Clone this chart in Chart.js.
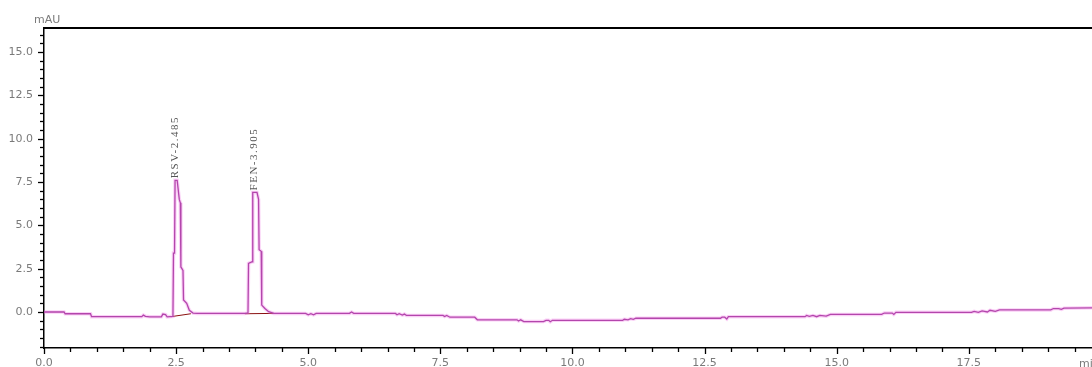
<!DOCTYPE html>
<html>
<head>
<meta charset="utf-8">
<script src="https://cdn.jsdelivr.net/npm/chart.js@4/dist/chart.umd.min.js"></script>
<style>
  html, body { margin: 0; padding: 0; background: #ffffff; overflow: hidden; }
  #wrap { width: 1092px; height: 367px; }
</style>
</head>
<body>
<div id="wrap"><canvas id="c" width="1092" height="367"></canvas></div>
<script>
// ---- data ----
const times = [
  0.00, 0.38, 0.40, 0.88, 0.90, 1.85, 1.88, 1.92, 2.00, 2.22, 2.25, 2.30, 2.33, 2.44,
  2.45, 2.47, 2.48, 2.52, 2.56, 2.58, 2.59, 2.63, 2.64, 2.70, 2.75, 2.82, 2.90,
  3.80, 3.86, 3.87, 3.94, 3.95, 4.03, 4.06, 4.07, 4.11, 4.12, 4.18, 4.25, 4.35,
  4.95, 5.00, 5.05, 5.10, 5.15, 5.78, 5.82, 5.86, 6.65, 6.68, 6.72, 6.78, 6.82, 6.86,
  7.55, 7.58, 7.62, 7.68, 8.15, 8.20, 8.95, 8.98, 9.02, 9.08, 9.45, 9.50, 9.55, 9.58,
  9.62, 10.95, 10.98, 11.05, 11.10, 11.15, 11.20, 12.80, 12.83, 12.88, 12.92, 12.95,
  14.40, 14.43, 14.48, 14.55, 14.62, 14.68, 14.80, 14.88, 15.85, 15.90, 16.05, 16.08,
  16.12, 17.55, 17.60, 17.68, 17.75, 17.85, 17.90, 18.00, 18.08, 19.05, 19.10, 19.20,
  19.25, 19.30, 19.85
];
const signal = [
  0.00, 0.00, -0.10, -0.10, -0.27, -0.27, -0.18, -0.25, -0.28, -0.28, -0.12, -0.15, -0.28, -0.25,
  3.40, 3.40, 7.60, 7.60, 6.50, 6.30, 2.60, 2.40, 0.70, 0.50, 0.10, -0.06, -0.08,
  -0.08, -0.05, 2.80, 2.90, 6.90, 6.90, 6.50, 3.60, 3.50, 0.40, 0.20, 0.02, -0.08,
  -0.08, -0.16, -0.10, -0.16, -0.08, -0.08, 0.00, -0.08, -0.08, -0.16, -0.10, -0.18, -0.12, -0.20,
  -0.20, -0.26, -0.20, -0.30, -0.30, -0.45, -0.45, -0.52, -0.45, -0.55, -0.55, -0.48, -0.48, -0.56,
  -0.48, -0.48, -0.42, -0.45, -0.38, -0.42, -0.36, -0.36, -0.30, -0.30, -0.40, -0.27,
  -0.27, -0.20, -0.25, -0.20, -0.27, -0.20, -0.24, -0.14, -0.14, -0.06, -0.06, -0.14,
  -0.02, -0.02, 0.04, -0.02, 0.06, 0.00, 0.10, 0.04, 0.12, 0.12, 0.20, 0.20,
  0.15, 0.22, 0.24
];
// integration baselines under the two peaks (null separates them)
const baseTimes = [2.40, 2.78, null, 3.80, 4.35];
const baseValues = [-0.27, -0.10, null, -0.10, -0.08];

const peakNames = ['RSV-2.485', 'FEN-3.905'];
const peakTimes = [2.50, 3.99];
const peakHeights = [7.6, 6.9];

const xTickValues = [0.0, 2.5, 5.0, 7.5, 10.0, 12.5, 15.0, 17.5];
const yTickValues = [0.0, 2.5, 5.0, 7.5, 10.0, 12.5, 15.0];
const yUnit = 'mAU';
const xUnit = 'min';

// ---- build library structures ----
const tracePoints = times.map((t, i) => ({ x: t, y: signal[i] }));
const basePoints = baseTimes.map((t, i) => (t === null ? { x: null, y: null } : { x: t, y: baseValues[i] }));

const decorPlugin = {
  id: 'decor',
  afterDraw(chart) {
    const ctx = chart.ctx;
    const xs = chart.scales.x, ys = chart.scales.y;
    const a = chart.chartArea;
    ctx.save();
    // top frame line
    ctx.strokeStyle = '#000';
    ctx.lineWidth = 2;
    ctx.beginPath();
    ctx.moveTo(a.left - 1, a.top);
    ctx.lineTo(a.right, a.top);
    ctx.stroke();
    // tick marks (major + minor)
    ctx.lineWidth = 1.3;
    for (let k = 0; k <= 39; k++) {
      const v = k * 0.5;
      const px = Math.round(xs.getPixelForValue(v)) + 0.5;
      if (px > a.right) break;
      const len = (k % 5 === 0) ? 6 : 4;
      ctx.beginPath();
      ctx.moveTo(px, a.bottom);
      ctx.lineTo(px, a.bottom + len);
      ctx.stroke();
    }
    for (let k = -4; k <= 32; k++) {
      const v = k * 0.5;
      const py = Math.round(ys.getPixelForValue(v)) + 0.5;
      if (py < a.top || py > a.bottom) continue;
      const len = (k % 5 === 0) ? 6 : 4;
      ctx.beginPath();
      ctx.moveTo(a.left, py);
      ctx.lineTo(a.left - len, py);
      ctx.stroke();
    }
    // unit labels
    ctx.fillStyle = '#7a7a7a';
    ctx.font = '11px "DejaVu Sans"';
    ctx.textAlign = 'left';
    ctx.textBaseline = 'alphabetic';
    ctx.fillText(yUnit, 34, 23);
    ctx.fillText(xUnit, 1079, 367);
    // peak labels
    ctx.fillStyle = '#555';
    ctx.font = '11px "Liberation Serif"';
    if ('letterSpacing' in ctx) ctx.letterSpacing = '1.5px';
    peakNames.forEach((name, i) => {
      const px = xs.getPixelForValue(peakTimes[i]);
      const py = ys.getPixelForValue(peakHeights[i]);
      ctx.save();
      ctx.translate(px - 1, py - 2);
      ctx.rotate(-Math.PI / 2);
      ctx.textAlign = 'left';
      ctx.textBaseline = 'middle';
      ctx.fillText(name, 0, 0);
      ctx.restore();
    });
    ctx.restore();
  }
};

const tickFont = { family: '"DejaVu Sans"', size: 11 };

new Chart(document.getElementById('c'), {
  type: 'line',
  data: {
    datasets: [
      {
        data: tracePoints,
        borderColor: 'rgba(240,120,230,0.35)',
        borderWidth: 3.5,
        pointRadius: 0,
        tension: 0,
        fill: false
      },
      {
        data: tracePoints,
        borderColor: '#932b8e',
        borderWidth: 1.3,
        pointRadius: 0,
        tension: 0,
        fill: false
      },
      {
        data: basePoints,
        borderColor: '#8a1010',
        borderWidth: 1,
        pointRadius: 0,
        tension: 0,
        spanGaps: false,
        fill: false
      }
    ]
  },
  options: {
    responsive: false,
    animation: false,
    devicePixelRatio: 1,
    parsing: false,
    layout: { padding: { top: 28, left: 0, right: 0, bottom: 0 } },
    plugins: {
      legend: { display: false },
      tooltip: { enabled: false }
    },
    scales: {
      x: {
        type: 'linear',
        position: 'bottom',
        min: 0,
        max: 19.83,
        grid: { display: false, drawTicks: false },
        border: { display: true, color: '#000', width: 1.5 },
        ticks: {
          font: tickFont,
          color: '#7a7a7a',
          padding: 9,
          maxRotation: 0,
          autoSkip: false,
          callback: (v) => Number(v).toFixed(1)
        },
        afterBuildTicks: (s) => { s.ticks = xTickValues.map(v => ({ value: v })); },
        afterFit: (s) => { s.height = 19; }
      },
      y: {
        type: 'linear',
        position: 'left',
        min: -2.077,
        max: 16.39,
        grid: { display: false, drawTicks: false },
        border: { display: true, color: '#000', width: 1.5 },
        ticks: {
          font: tickFont,
          color: '#7a7a7a',
          padding: 11,
          autoSkip: false,
          callback: (v) => Number(v).toFixed(1)
        },
        afterBuildTicks: (s) => { s.ticks = yTickValues.map(v => ({ value: v })); },
        afterFit: (s) => { s.width = 44; }
      }
    }
  },
  plugins: [decorPlugin]
});
</script>
</body>
</html>
